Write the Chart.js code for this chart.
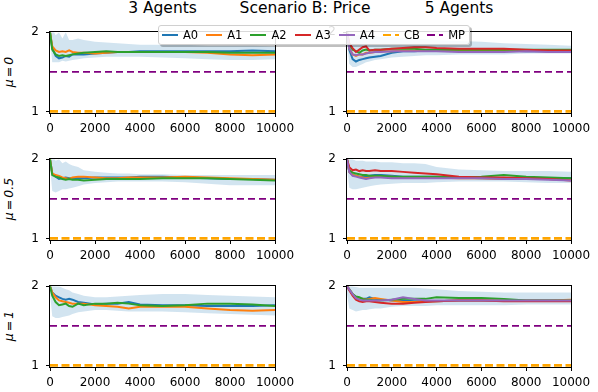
<!DOCTYPE html>
<html>
<head>
<meta charset="utf-8">
<script src="https://cdn.jsdelivr.net/npm/chart.js@4"></script>
<style>
  html, body { margin: 0; padding: 0; background: #fff; overflow: hidden; }
  body { width: 598px; height: 392px; position: relative; font-family: 'DejaVu Sans', sans-serif; color: #000; }
  canvas { position: absolute; }
  .title { position: absolute; top: 1px; font-size: 15.5px; line-height: 15.5px; white-space: nowrap; transform: translateX(-50%); z-index: 3; }
  .ylab { position: absolute; font-size: 12.5px; font-style: italic; white-space: nowrap; word-spacing: -2px;
          transform: translate(-50%, -50%) rotate(-90deg); z-index: 3; }
  #legend { position: absolute; left: 158px; top: 25px; width: 310px; height: 18px; background: rgba(255,255,255,0.85);
            border: 1px solid #d0d0d0; border-radius: 3px; box-shadow: 2px 2px 0 rgba(0,0,0,0.25); z-index: 4; }
  .item { position: absolute; top: 0; height: 18px; font-size: 11.5px; line-height: 18px; white-space: nowrap; }
  .item svg { position: absolute; left: 0; top: 0; }
  .item span { position: absolute; left: 21px; top: 0; }
</style>
</head>
<body>
<div class="title" style="left:162.5px">3 Agents</div>
<div class="title" style="left:305px">Scenario B: Price</div>
<div class="title" style="left:459px">5 Agents</div>
<div class="ylab" style="left:8px; top:72px">μ = 0</div>
<div class="ylab" style="left:8px; top:199px">μ = 0.5</div>
<div class="ylab" style="left:8px; top:326px">μ = 1</div>
<div id="legend"></div>

<script>
// training steps shared by every panel
const steps = [0, 100, 250, 400, 550, 700, 850, 1000, 1250, 1500, 2000, 2500, 3000, 3500, 4000, 5000, 6000, 7000, 8000, 9000, 10000];
const xTicks = [0, 2000, 4000, 6000, 8000, 10000];
const yTicks = [1, 2];
const cbLevel = 1.0;
const mpLevel = 1.5;

// 3 agents, mu = 0
const n3mu0_A0 = [2.00, 1.80, 1.70, 1.67, 1.68, 1.70, 1.69, 1.72, 1.72, 1.72, 1.73, 1.74, 1.75, 1.75, 1.76, 1.76, 1.76, 1.76, 1.76, 1.77, 1.76];
const n3mu0_A1 = [2.00, 1.82, 1.77, 1.75, 1.76, 1.75, 1.77, 1.75, 1.74, 1.74, 1.73, 1.74, 1.75, 1.75, 1.75, 1.75, 1.75, 1.74, 1.72, 1.71, 1.72];
const n3mu0_A2 = [2.00, 1.78, 1.72, 1.70, 1.71, 1.70, 1.71, 1.72, 1.73, 1.74, 1.75, 1.76, 1.75, 1.75, 1.75, 1.75, 1.75, 1.75, 1.74, 1.74, 1.74];
const n3mu0_lo = [1.90, 1.62, 1.62, 1.62, 1.64, 1.63, 1.64, 1.65, 1.66, 1.67, 1.68, 1.69, 1.69, 1.69, 1.69, 1.68, 1.67, 1.66, 1.65, 1.65, 1.66];
const n3mu0_hi = [2.10, 2.05, 1.96, 2.00, 1.92, 2.00, 1.90, 1.90, 1.92, 1.90, 1.88, 1.87, 1.86, 1.85, 1.84, 1.84, 1.84, 1.83, 1.83, 1.83, 1.82];

// 5 agents, mu = 0
const n5mu0_A0 = [2.00, 1.78, 1.66, 1.63, 1.65, 1.66, 1.67, 1.68, 1.69, 1.70, 1.74, 1.76, 1.76, 1.77, 1.77, 1.77, 1.77, 1.77, 1.76, 1.76, 1.75];
const n5mu0_A1 = [2.00, 1.80, 1.72, 1.70, 1.72, 1.72, 1.74, 1.74, 1.75, 1.76, 1.76, 1.77, 1.77, 1.77, 1.77, 1.77, 1.77, 1.77, 1.77, 1.76, 1.76];
const n5mu0_A2 = [2.00, 1.85, 1.78, 1.76, 1.74, 1.77, 1.78, 1.77, 1.78, 1.78, 1.79, 1.79, 1.79, 1.78, 1.78, 1.78, 1.78, 1.78, 1.78, 1.78, 1.78];
const n5mu0_A3 = [2.00, 1.86, 1.80, 1.75, 1.78, 1.81, 1.82, 1.77, 1.78, 1.78, 1.79, 1.80, 1.81, 1.81, 1.80, 1.79, 1.79, 1.79, 1.78, 1.77, 1.77];
const n5mu0_A4 = [2.00, 1.80, 1.72, 1.71, 1.72, 1.72, 1.73, 1.74, 1.75, 1.75, 1.76, 1.76, 1.76, 1.76, 1.76, 1.75, 1.75, 1.75, 1.76, 1.75, 1.75];
const n5mu0_lo = [1.90, 1.60, 1.56, 1.56, 1.58, 1.60, 1.62, 1.63, 1.65, 1.66, 1.68, 1.69, 1.70, 1.71, 1.71, 1.72, 1.72, 1.72, 1.73, 1.73, 1.73];
const n5mu0_hi = [2.10, 2.05, 1.98, 1.96, 1.97, 1.96, 1.95, 1.96, 1.95, 1.94, 1.94, 1.93, 1.92, 1.91, 1.90, 1.89, 1.88, 1.86, 1.85, 1.84, 1.83];

// 3 agents, mu = 0.5
const n3mu05_A0 = [2.00, 1.82, 1.78, 1.75, 1.76, 1.77, 1.76, 1.76, 1.76, 1.76, 1.77, 1.77, 1.77, 1.77, 1.78, 1.78, 1.77, 1.76, 1.75, 1.75, 1.74];
const n3mu05_A1 = [2.00, 1.82, 1.80, 1.79, 1.77, 1.76, 1.75, 1.77, 1.78, 1.78, 1.77, 1.76, 1.76, 1.77, 1.77, 1.77, 1.78, 1.77, 1.76, 1.75, 1.74];
const n3mu05_A2 = [2.00, 1.80, 1.78, 1.77, 1.75, 1.74, 1.75, 1.74, 1.74, 1.73, 1.74, 1.75, 1.75, 1.75, 1.75, 1.76, 1.76, 1.76, 1.75, 1.74, 1.73];
const n3mu05_lo = [1.90, 1.60, 1.58, 1.60, 1.62, 1.62, 1.63, 1.64, 1.66, 1.68, 1.70, 1.71, 1.72, 1.72, 1.72, 1.72, 1.71, 1.69, 1.67, 1.67, 1.67];
const n3mu05_hi = [2.10, 2.05, 1.98, 2.00, 1.95, 1.97, 1.94, 1.92, 1.90, 1.86, 1.84, 1.83, 1.82, 1.82, 1.81, 1.81, 1.80, 1.80, 1.80, 1.80, 1.80];

// 5 agents, mu = 0.5
const n5mu05_A0 = [2.00, 1.84, 1.80, 1.79, 1.78, 1.78, 1.78, 1.79, 1.80, 1.80, 1.79, 1.78, 1.78, 1.78, 1.78, 1.77, 1.76, 1.76, 1.76, 1.76, 1.76];
const n5mu05_A1 = [2.00, 1.84, 1.80, 1.79, 1.78, 1.77, 1.76, 1.77, 1.78, 1.78, 1.78, 1.77, 1.77, 1.77, 1.77, 1.76, 1.76, 1.75, 1.75, 1.75, 1.74];
const n5mu05_A2 = [2.00, 1.86, 1.83, 1.82, 1.81, 1.80, 1.80, 1.79, 1.79, 1.79, 1.78, 1.78, 1.78, 1.78, 1.78, 1.77, 1.78, 1.80, 1.78, 1.77, 1.76];
const n5mu05_A3 = [2.00, 1.90, 1.86, 1.87, 1.85, 1.86, 1.85, 1.85, 1.86, 1.85, 1.85, 1.84, 1.83, 1.82, 1.81, 1.78, 1.77, 1.77, 1.76, 1.75, 1.73];
const n5mu05_A4 = [2.00, 1.84, 1.79, 1.78, 1.77, 1.76, 1.75, 1.76, 1.77, 1.77, 1.76, 1.76, 1.76, 1.76, 1.76, 1.76, 1.76, 1.75, 1.75, 1.74, 1.73];
const n5mu05_lo = [1.90, 1.64, 1.62, 1.62, 1.63, 1.64, 1.65, 1.66, 1.67, 1.68, 1.69, 1.70, 1.70, 1.70, 1.71, 1.72, 1.72, 1.72, 1.71, 1.70, 1.70];
const n5mu05_hi = [2.10, 2.05, 2.00, 1.98, 1.98, 1.98, 1.97, 1.97, 1.97, 1.96, 1.96, 1.95, 1.95, 1.94, 1.90, 1.87, 1.86, 1.85, 1.85, 1.85, 1.84];

// 3 agents, mu = 1
const n3mu1_A0 = [2.00, 1.92, 1.88, 1.86, 1.84, 1.83, 1.84, 1.83, 1.80, 1.79, 1.77, 1.78, 1.78, 1.80, 1.77, 1.76, 1.76, 1.75, 1.75, 1.75, 1.76];
const n3mu1_A1 = [2.00, 1.92, 1.86, 1.82, 1.81, 1.80, 1.79, 1.78, 1.78, 1.78, 1.76, 1.75, 1.74, 1.72, 1.74, 1.74, 1.74, 1.72, 1.70, 1.69, 1.70];
const n3mu1_A2 = [2.00, 1.88, 1.80, 1.76, 1.77, 1.78, 1.75, 1.74, 1.78, 1.76, 1.78, 1.78, 1.79, 1.78, 1.76, 1.75, 1.76, 1.78, 1.78, 1.77, 1.75];
const n3mu1_lo = [1.90, 1.62, 1.60, 1.60, 1.61, 1.62, 1.63, 1.65, 1.67, 1.68, 1.70, 1.70, 1.69, 1.68, 1.68, 1.68, 1.67, 1.66, 1.65, 1.64, 1.63];
const n3mu1_hi = [2.10, 2.05, 2.00, 2.00, 1.98, 1.96, 1.95, 1.92, 1.90, 1.88, 1.86, 1.86, 1.87, 1.88, 1.89, 1.90, 1.90, 1.89, 1.88, 1.87, 1.86];

// 5 agents, mu = 1
const n5mu1_A0 = [2.00, 1.96, 1.90, 1.86, 1.84, 1.84, 1.84, 1.86, 1.84, 1.83, 1.82, 1.82, 1.81, 1.81, 1.81, 1.82, 1.82, 1.82, 1.82, 1.82, 1.82];
const n5mu1_A1 = [2.00, 1.96, 1.90, 1.86, 1.84, 1.84, 1.83, 1.84, 1.85, 1.84, 1.82, 1.80, 1.80, 1.81, 1.81, 1.82, 1.82, 1.82, 1.82, 1.82, 1.83];
const n5mu1_A2 = [2.00, 1.96, 1.90, 1.87, 1.86, 1.84, 1.83, 1.83, 1.82, 1.82, 1.83, 1.84, 1.84, 1.84, 1.86, 1.85, 1.85, 1.84, 1.82, 1.82, 1.82];
const n5mu1_A3 = [2.00, 1.95, 1.88, 1.83, 1.81, 1.80, 1.81, 1.81, 1.80, 1.79, 1.78, 1.78, 1.79, 1.80, 1.81, 1.82, 1.82, 1.81, 1.81, 1.81, 1.81];
const n5mu1_A4 = [2.00, 1.96, 1.90, 1.85, 1.83, 1.82, 1.82, 1.82, 1.82, 1.82, 1.83, 1.86, 1.84, 1.82, 1.82, 1.82, 1.82, 1.82, 1.82, 1.82, 1.82];
const n5mu1_lo = [1.90, 1.72, 1.70, 1.68, 1.69, 1.70, 1.70, 1.71, 1.72, 1.72, 1.74, 1.75, 1.75, 1.75, 1.76, 1.76, 1.76, 1.76, 1.77, 1.77, 1.77];
const n5mu1_hi = [2.10, 2.05, 2.00, 1.99, 1.98, 1.98, 1.98, 1.98, 1.98, 1.98, 1.98, 1.98, 1.98, 1.97, 1.96, 1.94, 1.93, 1.92, 1.92, 1.92, 1.92];

const agentNames = ['A0', 'A1', 'A2', 'A3', 'A4'];
const agentColors = ['#1f77b4', '#ff7f0e', '#2ca02c', '#d62728', '#9467bd'];
const cbColor = '#ffa500';
const mpColor = '#800080';
const bandColor = 'rgba(31,119,180,0.2)';

const panels = [
  { id: 'c00', left: 23, top: 18, series: [n3mu0_A0, n3mu0_A1, n3mu0_A2], lo: n3mu0_lo, hi: n3mu0_hi },
  { id: 'c01', left: 320, top: 18, series: [n5mu0_A0, n5mu0_A1, n5mu0_A2, n5mu0_A3, n5mu0_A4], lo: n5mu0_lo, hi: n5mu0_hi },
  { id: 'c10', left: 23, top: 145, series: [n3mu05_A0, n3mu05_A1, n3mu05_A2], lo: n3mu05_lo, hi: n3mu05_hi },
  { id: 'c11', left: 320, top: 145, series: [n5mu05_A0, n5mu05_A1, n5mu05_A2, n5mu05_A3, n5mu05_A4], lo: n5mu05_lo, hi: n5mu05_hi },
  { id: 'c20', left: 23, top: 272, series: [n3mu1_A0, n3mu1_A1, n3mu1_A2], lo: n3mu1_lo, hi: n3mu1_hi },
  { id: 'c21', left: 320, top: 272, series: [n5mu1_A0, n5mu1_A1, n5mu1_A2, n5mu1_A3, n5mu1_A4], lo: n5mu1_lo, hi: n5mu1_hi }
];

const pts = arr => arr.map((y, i) => ({ x: steps[i], y }));
const flat = y => [{ x: steps[0], y }, { x: steps[steps.length - 1], y }];

// matplotlib style box around the axes
const frame = {
  id: 'frame',
  afterDatasetsDraw(chart) {
    const { ctx, chartArea: a } = chart;
    ctx.save();
    ctx.strokeStyle = '#000';
    ctx.lineWidth = 1;
    ctx.strokeRect(Math.round(a.left) - 0.5, Math.round(a.top) - 0.5, Math.round(a.right - a.left) + 1, Math.round(a.bottom - a.top) + 1);
    ctx.restore();
  }
};

const tickFont = { family: 'DejaVu Sans', size: 12 };

panels.forEach(p => {
  const cv = document.createElement('canvas');
  cv.id = p.id;
  const plotW = p.left < 100 ? 225 : 224;
  cv.width = 27 + plotW + 25;
  cv.height = 14 + 81 + 22;
  cv.style.left = p.left + 'px';
  cv.style.top = p.top + 'px';
  document.body.appendChild(cv);

  const datasets = [
    { data: pts(p.lo), borderWidth: 0, pointRadius: 0, fill: false, order: 100 },
    { data: pts(p.hi), borderWidth: 0, pointRadius: 0, fill: '-1', backgroundColor: bandColor, order: 99 }
  ];
  p.series.forEach((s, i) => {
    datasets.push({ label: agentNames[i], data: pts(s), borderColor: agentColors[i], borderWidth: 2,
                    pointRadius: 0, fill: false, tension: 0, order: 20 - i });
  });
  datasets.push({ label: 'CB', data: flat(cbLevel), borderColor: cbColor, borderWidth: 2.6, borderDash: [8, 3.5],
                  pointRadius: 0, fill: false, order: 2 });
  datasets.push({ label: 'MP', data: flat(mpLevel), borderColor: mpColor, borderWidth: 1.8, borderDash: [7, 4],
                  pointRadius: 0, fill: false, order: 1 });

  new Chart(cv.getContext('2d'), {
    type: 'line',
    data: { datasets },
    options: {
      responsive: false,
      animation: false,
      devicePixelRatio: 1,
      layout: { padding: { top: 14, right: 25, left: 0, bottom: 0 } },
      plugins: { legend: { display: false }, tooltip: { enabled: false } },
      scales: {
        x: {
          type: 'linear', min: 0, max: 10000,
          afterBuildTicks: s => { s.ticks = xTicks.map(v => ({ value: v })); },
          ticks: { callback: v => String(v), color: '#000', font: tickFont, padding: 5, maxRotation: 0, autoSkip: false },
          grid: { drawOnChartArea: false, drawTicks: true, tickLength: 4, tickColor: '#000', tickWidth: 1 },
          border: { display: false },
          afterFit: s => { s.height = 22; }
        },
        y: {
          min: 0.98, max: 2,
          afterBuildTicks: s => { s.ticks = yTicks.map(v => ({ value: v })); },
          ticks: { callback: v => String(v), color: '#000', font: tickFont, padding: 7 },
          grid: { drawOnChartArea: false, drawTicks: true, tickLength: 4, tickColor: '#000', tickWidth: 1 },
          border: { display: false },
          afterFit: s => { s.width = 27; }
        }
      }
    },
    plugins: [frame]
  });
});

// shared legend across the top of the figure
const legendItems = [
  { name: 'A0', color: agentColors[0], dash: '', w: 2 },
  { name: 'A1', color: agentColors[1], dash: '', w: 2 },
  { name: 'A2', color: agentColors[2], dash: '', w: 2 },
  { name: 'A3', color: agentColors[3], dash: '', w: 2 },
  { name: 'A4', color: agentColors[4], dash: '', w: 2 },
  { name: 'CB', color: cbColor, dash: '8 4', w: 2 },
  { name: 'MP', color: mpColor, dash: '8 4', w: 2 }
];
const leg = document.getElementById('legend');
legendItems.forEach((it, i) => {
  const d = document.createElement('div');
  d.className = 'item';
  d.style.left = (3 + i * 44.2) + 'px';
  d.innerHTML = '<svg width="17" height="18"><line x1="0" y1="9" x2="16" y2="9" stroke="' + it.color +
    '" stroke-width="' + it.w + '"' + (it.dash ? ' stroke-dasharray="' + it.dash + '"' : '') + '/></svg><span>' + it.name + '</span>';
  leg.appendChild(d);
});
</script>
</body>
</html>
